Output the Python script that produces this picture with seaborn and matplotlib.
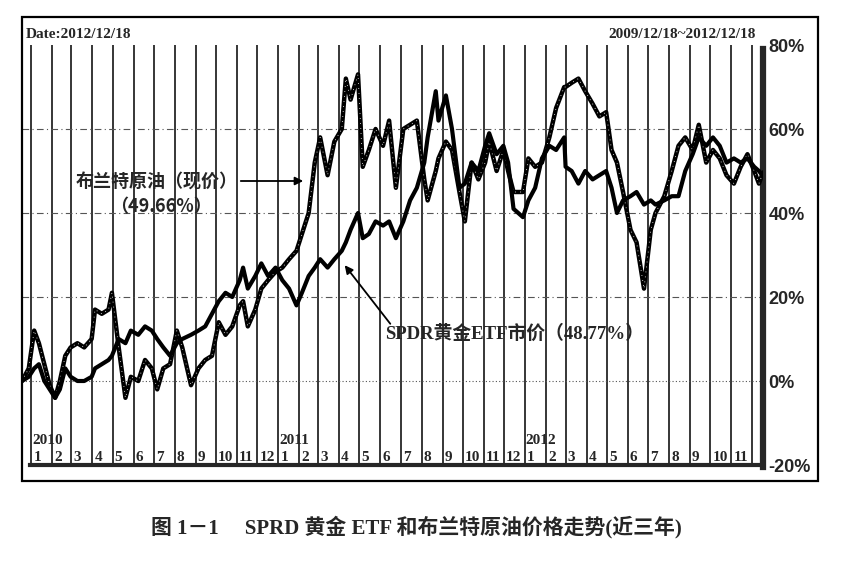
import numpy as np
import pandas as pd
import matplotlib
matplotlib.use('Agg')
import matplotlib.pyplot as plt
import matplotlib.dates as mdates
from matplotlib.patches import Rectangle
import seaborn as sns

# ---------- data (% change since 2009/12/18) ----------
dates = ['2009-12-18', '2009-12-28', '2010-01-05', '2010-01-12', '2010-01-20', '2010-01-28',
         '2010-02-05', '2010-02-12', '2010-02-20', '2010-02-28', '2010-03-10', '2010-03-20',
         '2010-03-31', '2010-04-05', '2010-04-15', '2010-04-25', '2010-04-30', '2010-05-10',
         '2010-05-20', '2010-05-28', '2010-06-08', '2010-06-18', '2010-06-28', '2010-07-06',
         '2010-07-15', '2010-07-25', '2010-08-04', '2010-08-12', '2010-08-25', '2010-09-05',
         '2010-09-15', '2010-09-25', '2010-10-05', '2010-10-15', '2010-10-25', '2010-11-05',
         '2010-11-10', '2010-11-17', '2010-11-28', '2010-12-07', '2010-12-17', '2010-12-28',
         '2011-01-07', '2011-01-17', '2011-01-28', '2011-02-05', '2011-02-15', '2011-02-24',
         '2011-03-04', '2011-03-15', '2011-03-25', '2011-04-05', '2011-04-11', '2011-04-18',
         '2011-04-29', '2011-05-06', '2011-05-15', '2011-05-25', '2011-06-05', '2011-06-14',
         '2011-06-24', '2011-07-05', '2011-07-15', '2011-07-25', '2011-08-05', '2011-08-10',
         '2011-08-22', '2011-08-26', '2011-09-06', '2011-09-15', '2011-09-26', '2011-10-04',
         '2011-10-14', '2011-10-24', '2011-11-03', '2011-11-09', '2011-11-20', '2011-11-30',
         '2011-12-07', '2011-12-15', '2011-12-29', '2012-01-06', '2012-01-16', '2012-01-26',
         '2012-02-06', '2012-02-16', '2012-02-28', '2012-03-01', '2012-03-10', '2012-03-20',
         '2012-03-30', '2012-04-10', '2012-04-20', '2012-04-30', '2012-05-08', '2012-05-16',
         '2012-05-25', '2012-06-05', '2012-06-14', '2012-06-25', '2012-07-05', '2012-07-12',
         '2012-07-25', '2012-08-05', '2012-08-15', '2012-08-25', '2012-09-05', '2012-09-14',
         '2012-09-25', '2012-10-05', '2012-10-15', '2012-10-25', '2012-11-05', '2012-11-15',
         '2012-11-25', '2012-12-05', '2012-12-12', '2012-12-18']

gold = [0, 1, 3, 4, 0, -2,
        -4, -2, 3, 1, 0, 0,
        1, 3, 4, 5, 6, 10,
        9, 12, 11, 13, 12, 10,
        8, 6, 9, 10, 11, 12,
        13, 16, 19, 21, 20, 24,
        27, 22, 25, 28, 25, 27,
        24, 22, 18, 21, 25, 27,
        29, 27, 29, 31, 33, 36,
        40, 34, 35, 38, 37, 38,
        34, 38, 43, 46, 52, 58,
        69, 62, 68, 60, 46, 47,
        52, 50, 56, 59, 54, 56,
        52, 41, 39, 43, 46, 53,
        56, 55, 58, 51, 50, 47,
        50, 48, 49, 50, 46, 40,
        43, 44, 45, 42, 43, 42,
        43, 44, 44, 50, 54, 58,
        56, 58, 56, 52, 53, 52,
        53, 51, 50, 48.77]

oil = [0, 3, 12, 9, 4, -1,
       -4, 0, 6, 8, 9, 8,
       10, 17, 16, 17, 21, 8,
       -4, 1, 0, 5, 3, -2,
       3, 4, 12, 8, -1, 3,
       5, 6, 14, 11, 13, 18,
       19, 13, 17, 22, 24, 26,
       27, 29, 31, 35, 40, 52,
       58, 49, 57, 60, 72, 67,
       73, 51, 55, 60, 56, 62,
       46, 60, 61, 62, 48, 43,
       50, 53, 57, 55, 45, 38,
       52, 48, 52, 57, 50, 55,
       50, 45, 45, 53, 51, 52,
       58, 65, 70, 70, 71, 72,
       69, 66, 63, 64, 55, 52,
       45, 36, 33, 22, 36, 40,
       44, 50, 56, 58, 55, 61,
       52, 55, 53, 49, 47, 51,
       54, 50, 47, 49.66]

y_ticks = [-20, 0, 20, 40, 60, 80]
y_labels = ['-20%', '0%', '20%', '40%', '60%', '80%']
month_starts = pd.date_range('2010-01-01', '2012-12-01', freq='MS')
years = ['2010', '2011', '2012']

df = pd.DataFrame({'date': pd.to_datetime(dates), 'gold': gold, 'oil': oil})

# ---------- figure ----------
sns.set_style('white')
plt.rcParams['font.family'] = ['Liberation Serif', 'Noto Sans CJK SC', 'DejaVu Sans']
W, H = 861, 562
fig = plt.figure(figsize=(W / 100, H / 100), dpi=100)
ax = fig.add_axes([22 / W, 1 - 465 / H, (763 - 22) / W, (465 - 45) / H])

x0, x1 = pd.Timestamp('2009-12-18'), pd.Timestamp('2012-12-18')
ax.set_xlim(x0, x1)
ax.set_ylim(-20, 80)

# month separators
for d in month_starts:
    ax.axvline(d, color='black', lw=1.1, zorder=1)
# horizontal grid
for v in [20, 40, 60]:
    ax.axhline(v, color='#555555', lw=0.8, ls=(0, (6, 3, 1, 3)), zorder=1)
ax.axhline(0, color='#555555', lw=0.8, ls=(0, (1, 2)), zorder=1)

# series
sns.lineplot(data=df, x='date', y='oil', ax=ax, color='black', lw=3.2, zorder=3)
sns.lineplot(data=df, x='date', y='oil', ax=ax, color='white', lw=0.6,
             ls=(0, (1, 5)), zorder=4)
sns.lineplot(data=df, x='date', y='gold', ax=ax, color='black', lw=3.0, zorder=5)

# axes decoration
ax.set_xlabel('')
ax.set_ylabel('')
ax.set_xticks([])
ax.yaxis.tick_right()
ax.set_yticks(y_ticks)
ax.set_yticklabels(y_labels, family='Liberation Sans', fontsize=13, fontweight='bold')
ax.tick_params(axis='y', length=0, pad=4)
for s in ['left', 'top']:
    ax.spines[s].set_visible(False)
ax.spines['right'].set_linewidth(4.5)
ax.spines['right'].set_bounds(-20.5, 79)
ax.spines['bottom'].set_linewidth(3)
ax.spines['bottom'].set_bounds(mdates.date2num(pd.Timestamp('2009-12-30')),
                               mdates.date2num(x1))

# month / year labels (the last, partial month is not labelled)
for d in month_starts[:-1]:
    ax.text(d + pd.Timedelta(days=3), -18.3, str(d.month), fontsize=11,
            fontweight='bold', ha='left', va='center', zorder=6)
    if d.month == 1:
        ax.text(d + pd.Timedelta(days=1), -14.2, years[d.year - 2010], fontsize=11,
                fontweight='bold', ha='left', va='center', zorder=6)

# header texts
fig.text(26 / W, 1 - 34 / H, 'Date:2012/12/18', fontsize=11, fontweight='bold',
         ha='left', va='center')
fig.text(756 / W, 1 - 34 / H, '2009/12/18~2012/12/18', fontsize=11, fontweight='bold',
         ha='right', va='center')

# annotations
ax.annotate('', xy=(306 / W, 1 - 181 / H), xytext=(238 / W, 1 - 181 / H),
            xycoords='figure fraction', textcoords='figure fraction',
            arrowprops=dict(arrowstyle='-|>', color='black', lw=1.3, mutation_scale=12))
fig.text(238 / W, 1 - 182 / H, '布兰特原油（现价）', fontsize=13, fontweight='bold',
         ha='right', va='center', family=['Noto Sans CJK SC'])
fig.text(161 / W, 1 - 207 / H, '（49.66%）', fontsize=13, fontweight='bold',
         ha='center', va='center', family=['Noto Sans CJK SC'])
ax.annotate('', xy=(343 / W, 1 - 263 / H), xytext=(392 / W, 1 - 326 / H),
            xycoords='figure fraction', textcoords='figure fraction',
            arrowprops=dict(arrowstyle='-|>', color='black', lw=1.3, mutation_scale=12))
fig.text(385 / W, 1 - 334 / H, 'SPDR黄金ETF市价（48.77%）', fontsize=13.5,
         fontweight='bold', ha='left', va='center',
         family=['Liberation Serif', 'Noto Sans CJK SC'])

# outer frame
fig.patches.append(Rectangle((22 / W, 1 - 481 / H), (818 - 22) / W, (481 - 17) / H,
                             transform=fig.transFigure, fill=False, lw=1.6,
                             edgecolor='black'))

# caption
fig.text(416 / W, 1 - 527 / H, '图 1－1　 SPRD 黄金 ETF 和布兰特原油价格走势(近三年)',
         fontsize=15, fontweight='bold', ha='center', va='center',
         family=['Liberation Serif', 'Noto Sans CJK SC'])

fig.savefig('out.png', dpi=100)
